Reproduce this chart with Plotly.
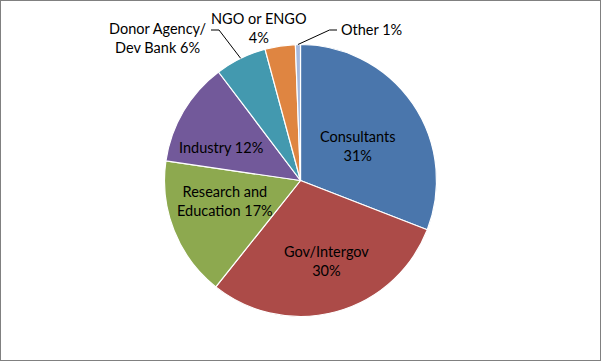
import math
import plotly.graph_objects as go

# ---- data ----
labels = ["Consultants", "Gov/Intergov", "Research and Education", "Industry",
          "Donor Agency/Dev Bank", "NGO or ENGO", "Other"]
values = [30.9, 29.8, 16.6, 12.4, 6.1, 3.6, 0.6]
label_text = ["Consultants", "Gov/Intergov", "Research and<br>Education", "Industry",
              "Donor Agency/<br>Dev Bank", "NGO or ENGO", "Other"]
colors = ["#4A76AC", "#AC4B48", "#8DA94F", "#72599A", "#4399AF", "#DF8541", "#A6B9DD"]

W, H = 601, 361
CX, CY, R = 300.5, 180.5, 136.0  # pie centre / radius in pixels
FONT = "Lato"
FS = 14.5

fig = go.Figure(go.Pie(
    labels=labels, values=values,
    textinfo="none",
    sort=False, direction="clockwise", rotation=0,
    marker=dict(colors=colors, line=dict(color="white", width=1.2)),
    domain=dict(x=[(CX - R) / W, (CX + R) / W], y=[1 - (CY + R) / H, 1 - (CY - R) / H]),
    showlegend=False, hoverinfo="label+percent",
))

# mid-angle edge points of the slices (computed from data)
total = sum(values)
cum = 0
edge = []
for v in values:
    mid = (cum + v / 2) / total * 2 * math.pi
    edge.append((CX + R * math.sin(mid), CY - R * math.cos(mid)))
    cum += v


def px(x):
    return x / W


def py(y):
    return 1 - y / H


pct = [f"{round(v / total * 100)}%" for v in values]

annots = [
    (f"{label_text[0]}<br>{pct[0]}", 358, 146),
    (f"{label_text[1]}<br>{pct[1]}", 326.5, 261),
    (f"{label_text[2]} {pct[2]}", 225, 201),
    (f"{label_text[3]} {pct[3]}", 221, 147),
    (f"{label_text[4]} {pct[4]}", 158, 38.5),
    (f"{label_text[5]}<br>{pct[5]}", 259, 28),
    (f"{label_text[6]} {pct[6]}", 371, 29),
]
for text, x, y in annots:
    fig.add_annotation(x=px(x), y=py(y), xref="paper", yref="paper",
                       xanchor="center", yanchor="middle", align="center",
                       text=text, showarrow=False,
                       font=dict(family=FONT, size=FS, color="black"))

shapes = []
# Donor leader line: horizontal from text end then to slice edge
ex, ey = edge[4]
shapes.append(dict(type="path", xref="paper", yref="paper",
                   path=f"M {px(211)} {py(30)} L {px(219)} {py(30)} L {px(ex)} {py(ey)}",
                   line=dict(color="black", width=1)))
# Other leader line
ex, ey = edge[6]
shapes.append(dict(type="path", xref="paper", yref="paper",
                   path=f"M {px(337)} {py(30)} L {px(329.5)} {py(30)} L {px(ex)} {py(ey)}",
                   line=dict(color="black", width=1)))
# outer border
shapes.append(dict(type="rect", xref="paper", yref="paper", x0=0, y0=0, x1=1, y1=1,
                   line=dict(color="#808080", width=2)))

fig.update_layout(width=W, height=H, margin=dict(l=0, r=0, t=0, b=0),
                  paper_bgcolor="white", plot_bgcolor="white", shapes=shapes)

fig.write_html("out.html", config={"displayModeBar": False},
               post_script="document.body.style.margin='0';")
